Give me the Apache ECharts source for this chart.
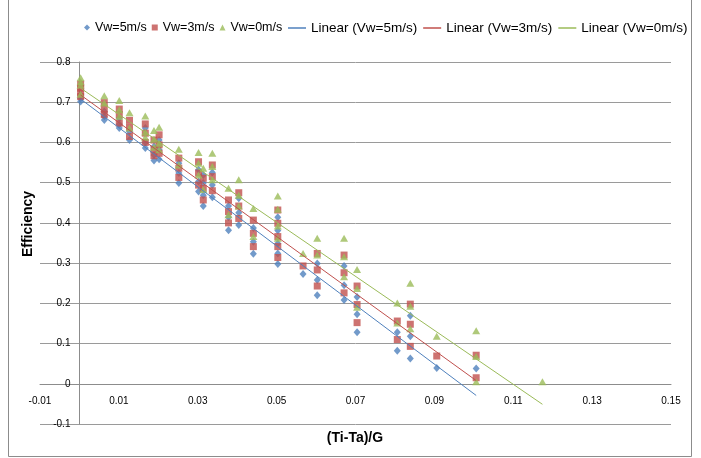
<!DOCTYPE html>
<html>
<head>
<meta charset="utf-8">
<script src="https://cdn.jsdelivr.net/npm/echarts@6/dist/echarts.min.js"></script>
<style>html,body{margin:0;padding:0;background:#fff}#c{width:701px;height:458px}</style>
</head>
<body>
<div id="c"></div>
<script>
// Scatter data: [ (Ti-Ta)/G , Efficiency ]
const vw5 = [
 [0.0003,0.702],[0.0003,0.710],[0.0003,0.718],
 [0.0063,0.677],[0.0063,0.665],[0.0063,0.656],
 [0.0101,0.660],[0.0101,0.645],[0.0101,0.636],
 [0.0127,0.627],[0.0127,0.606],
 [0.0167,0.636],[0.0167,0.600],[0.0167,0.586],
 [0.0189,0.590],[0.0189,0.569],[0.0189,0.555],
 [0.0202,0.606],[0.0202,0.582],[0.0202,0.558],
 [0.0252,0.548],[0.0252,0.524],[0.0252,0.499],
 [0.0302,0.532],[0.0302,0.503],[0.0302,0.478],
 [0.0314,0.519],[0.0314,0.499],[0.0314,0.469],[0.0314,0.442],
 [0.0337,0.525],[0.0337,0.494],[0.0337,0.464],
 [0.0378,0.442],[0.0378,0.414],[0.0378,0.382],
 [0.0404,0.461],[0.0404,0.425],[0.0404,0.395],
 [0.0441,0.387],[0.0441,0.353],[0.0441,0.323],
 [0.0503,0.414],[0.0503,0.381],[0.0503,0.349],[0.0503,0.324],[0.0503,0.298],
 [0.0567,0.273],
 [0.0603,0.299],[0.0603,0.258],[0.0603,0.220],
 [0.0671,0.293],[0.0671,0.245],[0.0671,0.208],
 [0.0704,0.216],[0.0704,0.173],[0.0704,0.128],
 [0.0806,0.128],[0.0806,0.082],
 [0.0839,0.169],[0.0839,0.118],[0.0839,0.063],
 [0.0906,0.039],
 [0.1006,0.038]
];
const vw3 = [
 [0.0003,0.714],[0.0003,0.725],[0.0003,0.735],[0.0003,0.745],
 [0.0063,0.699],[0.0063,0.683],[0.0063,0.669],
 [0.0101,0.683],[0.0101,0.669],[0.0101,0.648],
 [0.0127,0.655],[0.0127,0.638],[0.0127,0.615],
 [0.0167,0.646],[0.0167,0.623],[0.0167,0.600],
 [0.0189,0.606],[0.0189,0.582],[0.0189,0.567],
 [0.0202,0.619],[0.0202,0.594],[0.0202,0.573],
 [0.0252,0.561],[0.0252,0.536],[0.0252,0.513],
 [0.0302,0.552],[0.0302,0.524],[0.0302,0.494],
 [0.0314,0.511],[0.0314,0.486],[0.0314,0.457],
 [0.0337,0.544],[0.0337,0.515],[0.0337,0.480],
 [0.0378,0.457],[0.0378,0.428],[0.0378,0.400],
 [0.0404,0.475],[0.0404,0.442],[0.0404,0.411],
 [0.0441,0.407],[0.0441,0.374],[0.0441,0.341],
 [0.0503,0.432],[0.0503,0.399],[0.0503,0.366],[0.0503,0.341],[0.0503,0.314],
 [0.0567,0.293],
 [0.0603,0.324],[0.0603,0.283],[0.0603,0.243],
 [0.0671,0.320],[0.0671,0.276],[0.0671,0.226],
 [0.0704,0.243],[0.0704,0.197],[0.0704,0.152],
 [0.0806,0.156],[0.0806,0.110],
 [0.0839,0.198],[0.0839,0.148],[0.0839,0.093],
 [0.0906,0.069],
 [0.1006,0.071],[0.1006,0.015]
];
const vw0 = [
 [0.0003,0.720],[0.0003,0.743],[0.0003,0.751],[0.0003,0.761],
 [0.0063,0.716],[0.0063,0.698],
 [0.0101,0.704],[0.0101,0.681],[0.0101,0.665],
 [0.0127,0.674],[0.0127,0.636],
 [0.0167,0.666],[0.0167,0.626],[0.0167,0.613],
 [0.0189,0.630],[0.0189,0.608],[0.0189,0.588],
 [0.0202,0.638],[0.0202,0.598],[0.0202,0.582],
 [0.0252,0.583],[0.0252,0.544],
 [0.0302,0.575],[0.0302,0.548],[0.0302,0.519],
 [0.0314,0.536],[0.0314,0.483],
 [0.0337,0.573],[0.0337,0.540],[0.0337,0.507],
 [0.0378,0.486],[0.0378,0.420],
 [0.0404,0.507],[0.0404,0.469],[0.0404,0.442],
 [0.0441,0.436],[0.0441,0.366],
 [0.0503,0.467],[0.0503,0.434],[0.0503,0.392],[0.0503,0.362],
 [0.0567,0.324],
 [0.0603,0.362],[0.0603,0.320],
 [0.0671,0.362],[0.0671,0.316],[0.0671,0.266],
 [0.0704,0.284],[0.0704,0.237],[0.0704,0.190],
 [0.0806,0.201],[0.0806,0.151],
 [0.0839,0.250],[0.0839,0.193],[0.0839,0.137],
 [0.0906,0.118],
 [0.1006,0.132],[0.1006,0.068],[0.1006,0.005],
 [0.1174,0.005]
];
// Trendline end points
const lin5 = [[0.0003,0.708],[0.1006,-0.029]];
const lin3 = [[0.0003,0.718],[0.1006,0.008]];
const lin0 = [[0.0003,0.735],[0.1174,-0.051]];

const names = ['Vw=5m/s','Vw=3m/s','Vw=0m/s','Linear (Vw=5m/s)','Linear (Vw=3m/s)','Linear (Vw=0m/s)'];
const xLabels = ['-0.01','0.01','0.03','0.05','0.07','0.09','0.11','0.13','0.15'];

const X_MIN = -0.01, X_MAX = 0.15, Y_MIN = -0.1, Y_MAX = 0.8;
const BLUE = '#4F81BD', RED = '#C0504D', GREEN = '#9BBB59';
const FONT = 'Liberation Sans';
const W = 701, H = 458;
const G = {left:40, right:30, top:62, bottom:34};
const gridW = W - G.left - G.right, gridH = H - G.top - G.bottom;
// axes cross at zero (as in the original): shift them inward to the zero position
const yAxisOffset = -gridW * (0 - X_MIN) / (X_MAX - X_MIN);
const xAxisOffset = -gridH * (0 - Y_MIN) / (Y_MAX - Y_MIN);

const chart = echarts.init(document.getElementById('c'), null, {renderer:'canvas'});
chart.setOption({
  animation:false,
  backgroundColor:'#fff',
  textStyle:{fontFamily:FONT},
  legend:[{
    left:84, top:21, padding:0, itemWidth:6, itemHeight:6, itemGap:5,
    textStyle:{fontSize:12.5, color:'#000', fontFamily:FONT},
    data:[{name:names[0],icon:'diamond'},{name:names[1],icon:'rect'},{name:names[2],icon:'triangle'}]
  },{
    left:288, top:21, padding:0, itemWidth:18, itemHeight:1.5, itemGap:6,
    textStyle:{fontSize:13.5, color:'#000', fontFamily:FONT},
    data:[{name:names[3],icon:'rect'},{name:names[4],icon:'rect'},{name:names[5],icon:'rect'}]
  }],
  grid:G,
  xAxis:{
    type:'value', min:X_MIN, max:X_MAX, interval:0.01,
    position:'bottom', offset:xAxisOffset,
    axisLine:{onZero:false, lineStyle:{color:'#8c8c8c', width:1}},
    axisTick:{show:false},
    splitLine:{show:false},
    axisLabel:{
      margin:12, fontSize:10, color:'#000', showMinLabel:true, showMaxLabel:true,
      formatter:function(v){
        const k = Math.round(v*100);
        if (Math.abs(k)%2===1){
          const s = (k/100).toFixed(2);
          return xLabels.indexOf(s)>=0 ? s : '';
        }
        return '';
      }
    }
  },
  yAxis:{
    type:'value', min:Y_MIN, max:Y_MAX, interval:0.1,
    position:'left', offset:yAxisOffset,
    axisLine:{show:true, onZero:false, lineStyle:{color:'#8c8c8c', width:1}},
    axisTick:{show:false},
    splitLine:{lineStyle:{color:'#9a9a9a', width:1}},
    axisLabel:{margin:9, fontSize:10, color:'#000',
      formatter:function(v){ return String(Math.round(v*10)/10); }}
  },
  graphic:[
    {type:'rect', silent:true, shape:{x:8.5, y:-5, width:683, height:461.5},
     style:{fill:'none', stroke:'#8c8c8c', lineWidth:1}, z:-10},
    {type:'text', x:28, y:224, rotation:Math.PI/2, silent:true,
     style:{text:'Efficiency', font:'bold 14px "'+FONT+'"', fill:'#000', align:'center', verticalAlign:'middle'}},
    {type:'text', x:355, y:438, silent:true,
     style:{text:'(Ti-Ta)/G', font:'bold 14px "'+FONT+'"', fill:'#000', align:'center', verticalAlign:'middle'}}
  ],
  series:[
    {name:names[0], type:'scatter', data:vw5, symbol:'diamond', symbolSize:[7,8],
     itemStyle:{color:BLUE}, z:3},
    {name:names[1], type:'scatter', data:vw3, symbol:'rect', symbolSize:7,
     itemStyle:{color:RED}, z:3},
    {name:names[2], type:'scatter', data:vw0, symbol:'triangle', symbolSize:[8,7],
     itemStyle:{color:GREEN}, z:3},
    {name:names[3], type:'line', data:lin5, symbol:'none', lineStyle:{color:BLUE, width:1}, itemStyle:{color:BLUE}, z:4},
    {name:names[4], type:'line', data:lin3, symbol:'none', lineStyle:{color:RED, width:1}, itemStyle:{color:RED}, z:4},
    {name:names[5], type:'line', data:lin0, symbol:'none', lineStyle:{color:GREEN, width:1}, itemStyle:{color:GREEN}, z:4}
  ]
});
</script>
</body>
</html>
